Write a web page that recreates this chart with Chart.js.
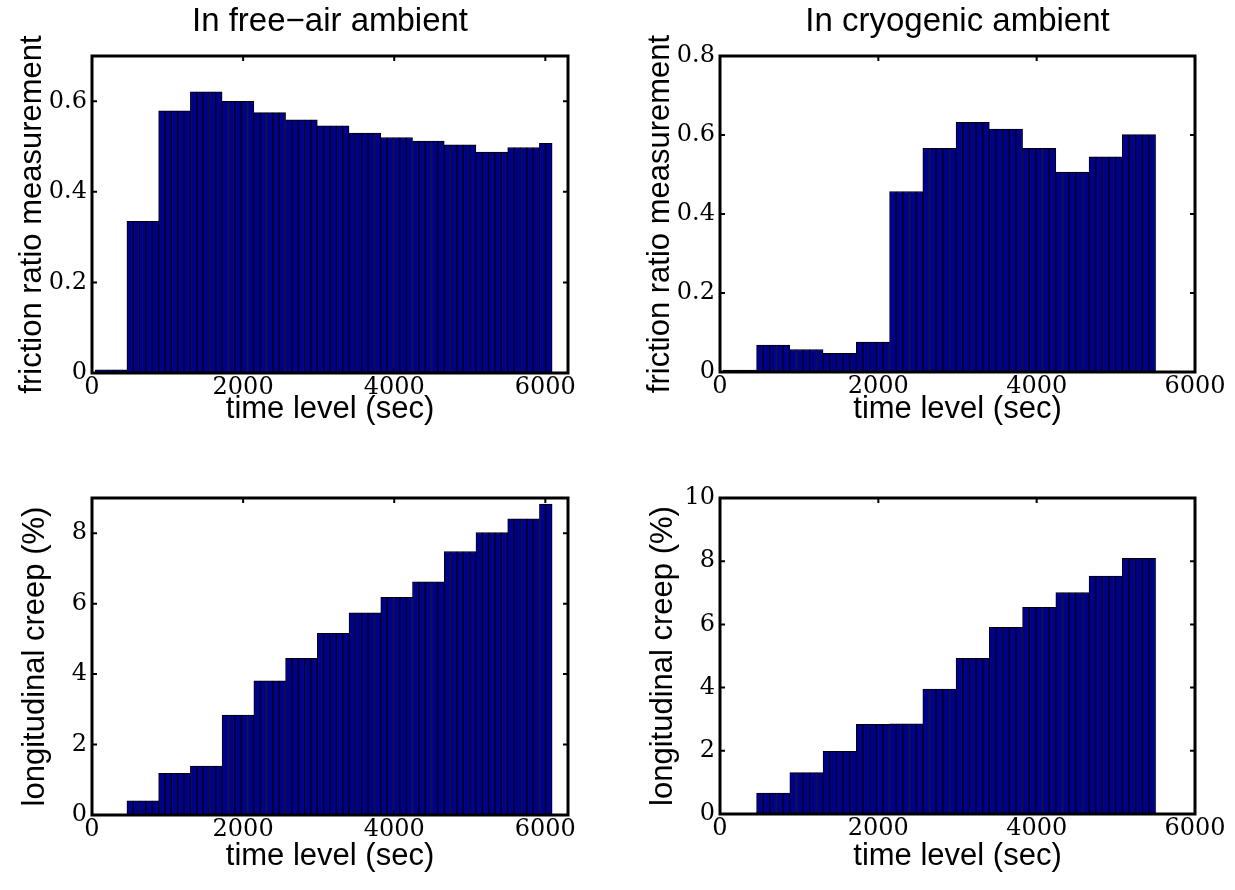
<!DOCTYPE html>
<html>
<head>
<meta charset="utf-8">
<script src="https://cdn.jsdelivr.net/npm/chart.js@4.4.1/dist/chart.umd.min.js"></script>
<style>
  body { margin: 0; background: #fff; }
  #page { position: relative; width: 1235px; height: 890px; }
  canvas { position: absolute; }
</style>
</head>
<body>
<div id="page">
  <canvas id="freeFriction" width="610" height="440" style="left:0px;top:0px"></canvas>
  <canvas id="cryoFriction" width="620" height="440" style="left:615px;top:0px"></canvas>
  <canvas id="freeCreep" width="610" height="445" style="left:0px;top:445px"></canvas>
  <canvas id="cryoCreep" width="620" height="445" style="left:615px;top:445px"></canvas>
</div>
<script>
// sample times (sec), one bar per sample
var timeLevels = [
  84, 168, 252, 336, 420, 504, 588, 672, 756, 840,
  924, 1008, 1092, 1176, 1260, 1344, 1428, 1512, 1596, 1680,
  1764, 1848, 1932, 2016, 2100, 2184, 2268, 2352, 2436, 2520,
  2604, 2688, 2772, 2856, 2940, 3024, 3108, 3192, 3276, 3360,
  3444, 3528, 3612, 3696, 3780, 3864, 3948, 4032, 4116, 4200,
  4284, 4368, 4452, 4536, 4620, 4704, 4788, 4872, 4956, 5040,
  5124, 5208, 5292, 5376, 5460, 5544, 5628, 5712, 5796, 5880,
  5964, 6048
];

var freeAirFriction = [
  0.007, 0.007, 0.007, 0.007, 0.007,
  0.335, 0.335, 0.335, 0.335, 0.335,
  0.579, 0.579, 0.579, 0.579, 0.579,
  0.621, 0.621, 0.621, 0.621, 0.621,
  0.600, 0.600, 0.600, 0.600, 0.600,
  0.575, 0.575, 0.575, 0.575, 0.575,
  0.559, 0.559, 0.559, 0.559, 0.559,
  0.546, 0.546, 0.546, 0.546, 0.546,
  0.530, 0.530, 0.530, 0.530, 0.530,
  0.520, 0.520, 0.520, 0.520, 0.520,
  0.512, 0.512, 0.512, 0.512, 0.512,
  0.504, 0.504, 0.504, 0.504, 0.504,
  0.488, 0.488, 0.488, 0.488, 0.488,
  0.498, 0.498, 0.498, 0.498, 0.498,
  0.507, 0.507
];

var cryoFriction = [
  0.005, 0.005, 0.005, 0.005, 0.005,
  0.068, 0.068, 0.068, 0.068, 0.068,
  0.057, 0.057, 0.057, 0.057, 0.057,
  0.047, 0.047, 0.047, 0.047, 0.047,
  0.076, 0.076, 0.076, 0.076, 0.076,
  0.457, 0.457, 0.457, 0.457, 0.457,
  0.566, 0.566, 0.566, 0.566, 0.566,
  0.632, 0.632, 0.632, 0.632, 0.632,
  0.615, 0.615, 0.615, 0.615, 0.615,
  0.566, 0.566, 0.566, 0.566, 0.566,
  0.506, 0.506, 0.506, 0.506, 0.506,
  0.545, 0.545, 0.545, 0.545, 0.545,
  0.601, 0.601, 0.601, 0.601, 0.601
];

var freeAirCreep = [
  0, 0, 0, 0, 0,
  0.40, 0.40, 0.40, 0.40, 0.40,
  1.18, 1.18, 1.18, 1.18, 1.18,
  1.39, 1.39, 1.39, 1.39, 1.39,
  2.84, 2.84, 2.84, 2.84, 2.84,
  3.81, 3.81, 3.81, 3.81, 3.81,
  4.45, 4.45, 4.45, 4.45, 4.45,
  5.16, 5.16, 5.16, 5.16, 5.16,
  5.74, 5.74, 5.74, 5.74, 5.74,
  6.18, 6.18, 6.18, 6.18, 6.18,
  6.62, 6.62, 6.62, 6.62, 6.62,
  7.48, 7.48, 7.48, 7.48, 7.48,
  8.02, 8.02, 8.02, 8.02, 8.02,
  8.41, 8.41, 8.41, 8.41, 8.41,
  8.83, 8.83
];

var cryoCreep = [
  0, 0, 0, 0, 0,
  0.66, 0.66, 0.66, 0.66, 0.66,
  1.31, 1.31, 1.31, 1.31, 1.31,
  1.98, 1.98, 1.98, 1.98, 1.98,
  2.84, 2.84, 2.84, 2.84, 2.84,
  2.85, 2.85, 2.85, 2.85, 2.85,
  3.95, 3.95, 3.95, 3.95, 3.95,
  4.93, 4.93, 4.93, 4.93, 4.93,
  5.91, 5.91, 5.91, 5.91, 5.91,
  6.54, 6.54, 6.54, 6.54, 6.54,
  7.01, 7.01, 7.01, 7.01, 7.01,
  7.53, 7.53, 7.53, 7.53, 7.53,
  8.09, 8.09, 8.09, 8.09, 8.09
];

var timeTicks = [0, 2000, 4000, 6000];
var freeFrictionTicks = [0, 0.2, 0.4, 0.6];
var cryoFrictionTicks = [0, 0.2, 0.4, 0.6, 0.8];
var freeCreepTicks = [0, 2, 4, 6, 8];
var cryoCreepTicks = [0, 2, 4, 6, 8, 10];

var SANS = "'Liberation Sans', Arial, sans-serif";
var SERIF = "'DejaVu Serif', serif";

Chart.defaults.color = "#000";
Chart.defaults.font.family = SERIF;

// matlab style box with inward ticks on all four sides
var matlabAxes = {
  id: "matlabAxes",
  beforeDatasetsDraw: function (chart) {
    var a = chart.chartArea, ctx = chart.ctx, len = 5;
    var xs = chart.scales.x, ys = chart.scales.y;
    ctx.save();
    ctx.strokeStyle = "#000";
    ctx.lineWidth = 2;
    ctx.beginPath();
    xs.ticks.forEach(function (t) {
      var px = xs.getPixelForValue(t.value);
      ctx.moveTo(px, a.bottom); ctx.lineTo(px, a.bottom - len);
      ctx.moveTo(px, a.top); ctx.lineTo(px, a.top + len);
    });
    ys.ticks.forEach(function (t) {
      var py = ys.getPixelForValue(t.value);
      ctx.moveTo(a.left, py); ctx.lineTo(a.left + len, py);
      ctx.moveTo(a.right, py); ctx.lineTo(a.right - len, py);
    });
    ctx.stroke();
    ctx.restore();
  },
  afterDatasetsDraw: function (chart) {
    var a = chart.chartArea, ctx = chart.ctx;
    ctx.save();
    ctx.strokeStyle = "#000";
    ctx.lineWidth = 3;
    ctx.strokeRect(a.left, a.top, a.right - a.left, a.bottom - a.top);
    ctx.restore();
  }
};

function makeChart(id, values, o) {
  var canvas = document.getElementById(id);
  var W = canvas.width, H = canvas.height;
  var points = values.map(function (v, i) { return { x: timeLevels[i], y: v }; });
  return new Chart(canvas.getContext("2d"), {
    type: "bar",
    data: {
      datasets: [{
        data: points,
        backgroundColor: "rgb(0,0,143)",
        borderColor: "#000",
        borderWidth: 1,
        barPercentage: 1,
        categoryPercentage: 1
      }]
    },
    options: {
      responsive: false,
      animation: false,
      layout: {
        padding: { left: 0, bottom: 0, right: W - o.area.right, top: o.title ? 0 : o.area.top }
      },
      plugins: {
        legend: { display: false },
        tooltip: { enabled: false },
        title: {
          display: !!o.title,
          text: o.title || "",
          fullSize: false,
          color: "#000",
          font: { family: SANS, size: 33, weight: "normal" },
          padding: { top: 2.2, bottom: 14.2 }
        }
      },
      scales: {
        x: {
          type: "linear",
          min: 0,
          max: o.xMax,
          offset: false,
          grid: { display: false, drawTicks: false, offset: false },
          border: { display: false },
          afterBuildTicks: function (s) { s.ticks = timeTicks.map(function (v) { return { value: v }; }); },
          afterFit: function (s) { s.height = H - o.area.bottom; },
          ticks: {
            autoSkip: false,
            maxRotation: 0,
            padding: 0,
            font: { size: 24 },
            callback: function (v) { return String(v); }
          },
          title: {
            display: true,
            text: "time level (sec)",
            font: { family: SANS, size: 31 },
            padding: { top: 0, bottom: o.xTitlePad }
          }
        },
        y: {
          min: 0,
          max: o.yMax,
          grid: { display: false, drawTicks: false },
          border: { display: false },
          afterBuildTicks: function (s) { s.ticks = o.yTicks.map(function (v) { return { value: v }; }); },
          afterFit: function (s) { s.width = o.area.left; },
          ticks: {
            autoSkip: false,
            padding: 5,
            font: { size: 24 },
            callback: function (v) { return String(v); }
          },
          title: {
            display: true,
            text: o.yLabel,
            font: { family: SANS, size: 31 },
            padding: { top: o.yTitlePad, bottom: 0 }
          }
        }
      }
    },
    plugins: [matlabAxes]
  });
}

makeChart("freeFriction", freeAirFriction, {
  title: "In free\u2212air ambient",
  xMax: 6300, yMax: 0.7, yTicks: freeFrictionTicks,
  yLabel: "friction ratio measurement",
  area: { left: 92, right: 568, top: 56, bottom: 373 },
  xTitlePad: 12, yTitlePad: 14
});

makeChart("cryoFriction", cryoFriction, {
  title: "In cryogenic ambient",
  xMax: 6000, yMax: 0.8, yTicks: cryoFrictionTicks,
  yLabel: "friction ratio measurement",
  area: { left: 105, right: 580, top: 56, bottom: 372 },
  xTitlePad: 12, yTitlePad: 27
});

makeChart("freeCreep", freeAirCreep, {
  title: null,
  xMax: 6300, yMax: 9, yTicks: freeCreepTicks,
  yLabel: "longitudinal creep (%)",
  area: { left: 92, right: 568, top: 53, bottom: 370 },
  xTitlePad: 15, yTitlePad: 17
});

makeChart("cryoCreep", cryoCreep, {
  title: null,
  xMax: 6000, yMax: 10, yTicks: cryoCreepTicks,
  yLabel: "longitudinal creep (%)",
  area: { left: 105, right: 580, top: 53, bottom: 369 },
  xTitlePad: 15, yTitlePad: 30
});
</script>
</body>
</html>
